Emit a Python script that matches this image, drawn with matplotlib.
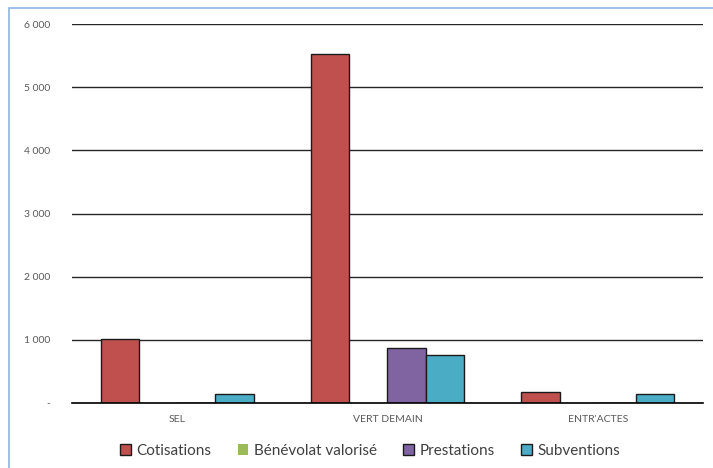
import matplotlib
matplotlib.use("Agg")
import matplotlib.pyplot as plt
import numpy as np
from matplotlib.patches import Rectangle

categories = ["SEL", "VERT DEMAIN", "ENTR'ACTES"]
series_names = ["Cotisations", "Bénévolat valorisé", "Prestations", "Subventions"]
cotisations = [1020, 5520, 180]
benevolat = [0, 0, 0]
prestations = [0, 870, 0]
subventions = [150, 760, 150]
yticks = [0, 1000, 2000, 3000, 4000, 5000, 6000]
yticklabels = ["-", "1 000", "2 000", "3 000", "4 000", "5 000", "6 000"]

colors = ["#C0504D", "#9BBB59", "#8064A2", "#4BACC6"]
edges = ["#1a1a1a", "none", "#1a1a1a", "#1a1a1a"]

plt.rcParams['font.family'] = ['Lato', 'DejaVu Sans']

fig = plt.figure(figsize=(7.13, 4.68), dpi=100)
ax = fig.add_axes([72/713, 1-403/468, (703-72)/713, (403-24)/468])

data = [cotisations, benevolat, prestations, subventions]
x = np.arange(len(categories))
bw = 1.0 / (4 + 1.5)
for i, (vals, name) in enumerate(zip(data, series_names)):
    offs = (i - 1.5) * bw
    ax.bar(x + offs, vals, width=bw, color=colors[i], edgecolor=edges[i],
           linewidth=1.0 if edges[i] != "none" else 0, label=name, zorder=3)

ax.set_xlim(-0.5, 2.5)
ax.set_ylim(0, 6000)
ax.set_yticks(yticks)
ax.set_yticklabels(yticklabels, color="#595959", fontsize=7.5)
ax.set_xticks(x)
ax.set_xticklabels(categories, color="#595959", fontsize=7.5)
ax.tick_params(axis='y', length=0, pad=16)
ax.tick_params(axis='x', length=0, pad=9)
ax.grid(axis='y', color="#262626", linewidth=1.0, zorder=0)
for s in ["top", "right", "left"]:
    ax.spines[s].set_visible(False)
ax.spines["bottom"].set_color("#000000")
ax.spines["bottom"].set_linewidth(1.2)
ax.spines["bottom"].set_zorder(4)

leg = fig.legend(loc="center", bbox_to_anchor=(370/713, 1-451/468), ncol=4, frameon=False,
                 fontsize=11, handlelength=0.7, handleheight=0.7, handletextpad=0.35,
                 columnspacing=1.75)
for t in leg.get_texts():
    t.set_color("#404040")

fig.patches.append(Rectangle((9/713, -0.1), 1.2, 1 - 8/468 + 0.1, transform=fig.transFigure,
                             fill=False, edgecolor="#8EB4E3", linewidth=1.2))

fig.savefig("out.png", dpi=100)
